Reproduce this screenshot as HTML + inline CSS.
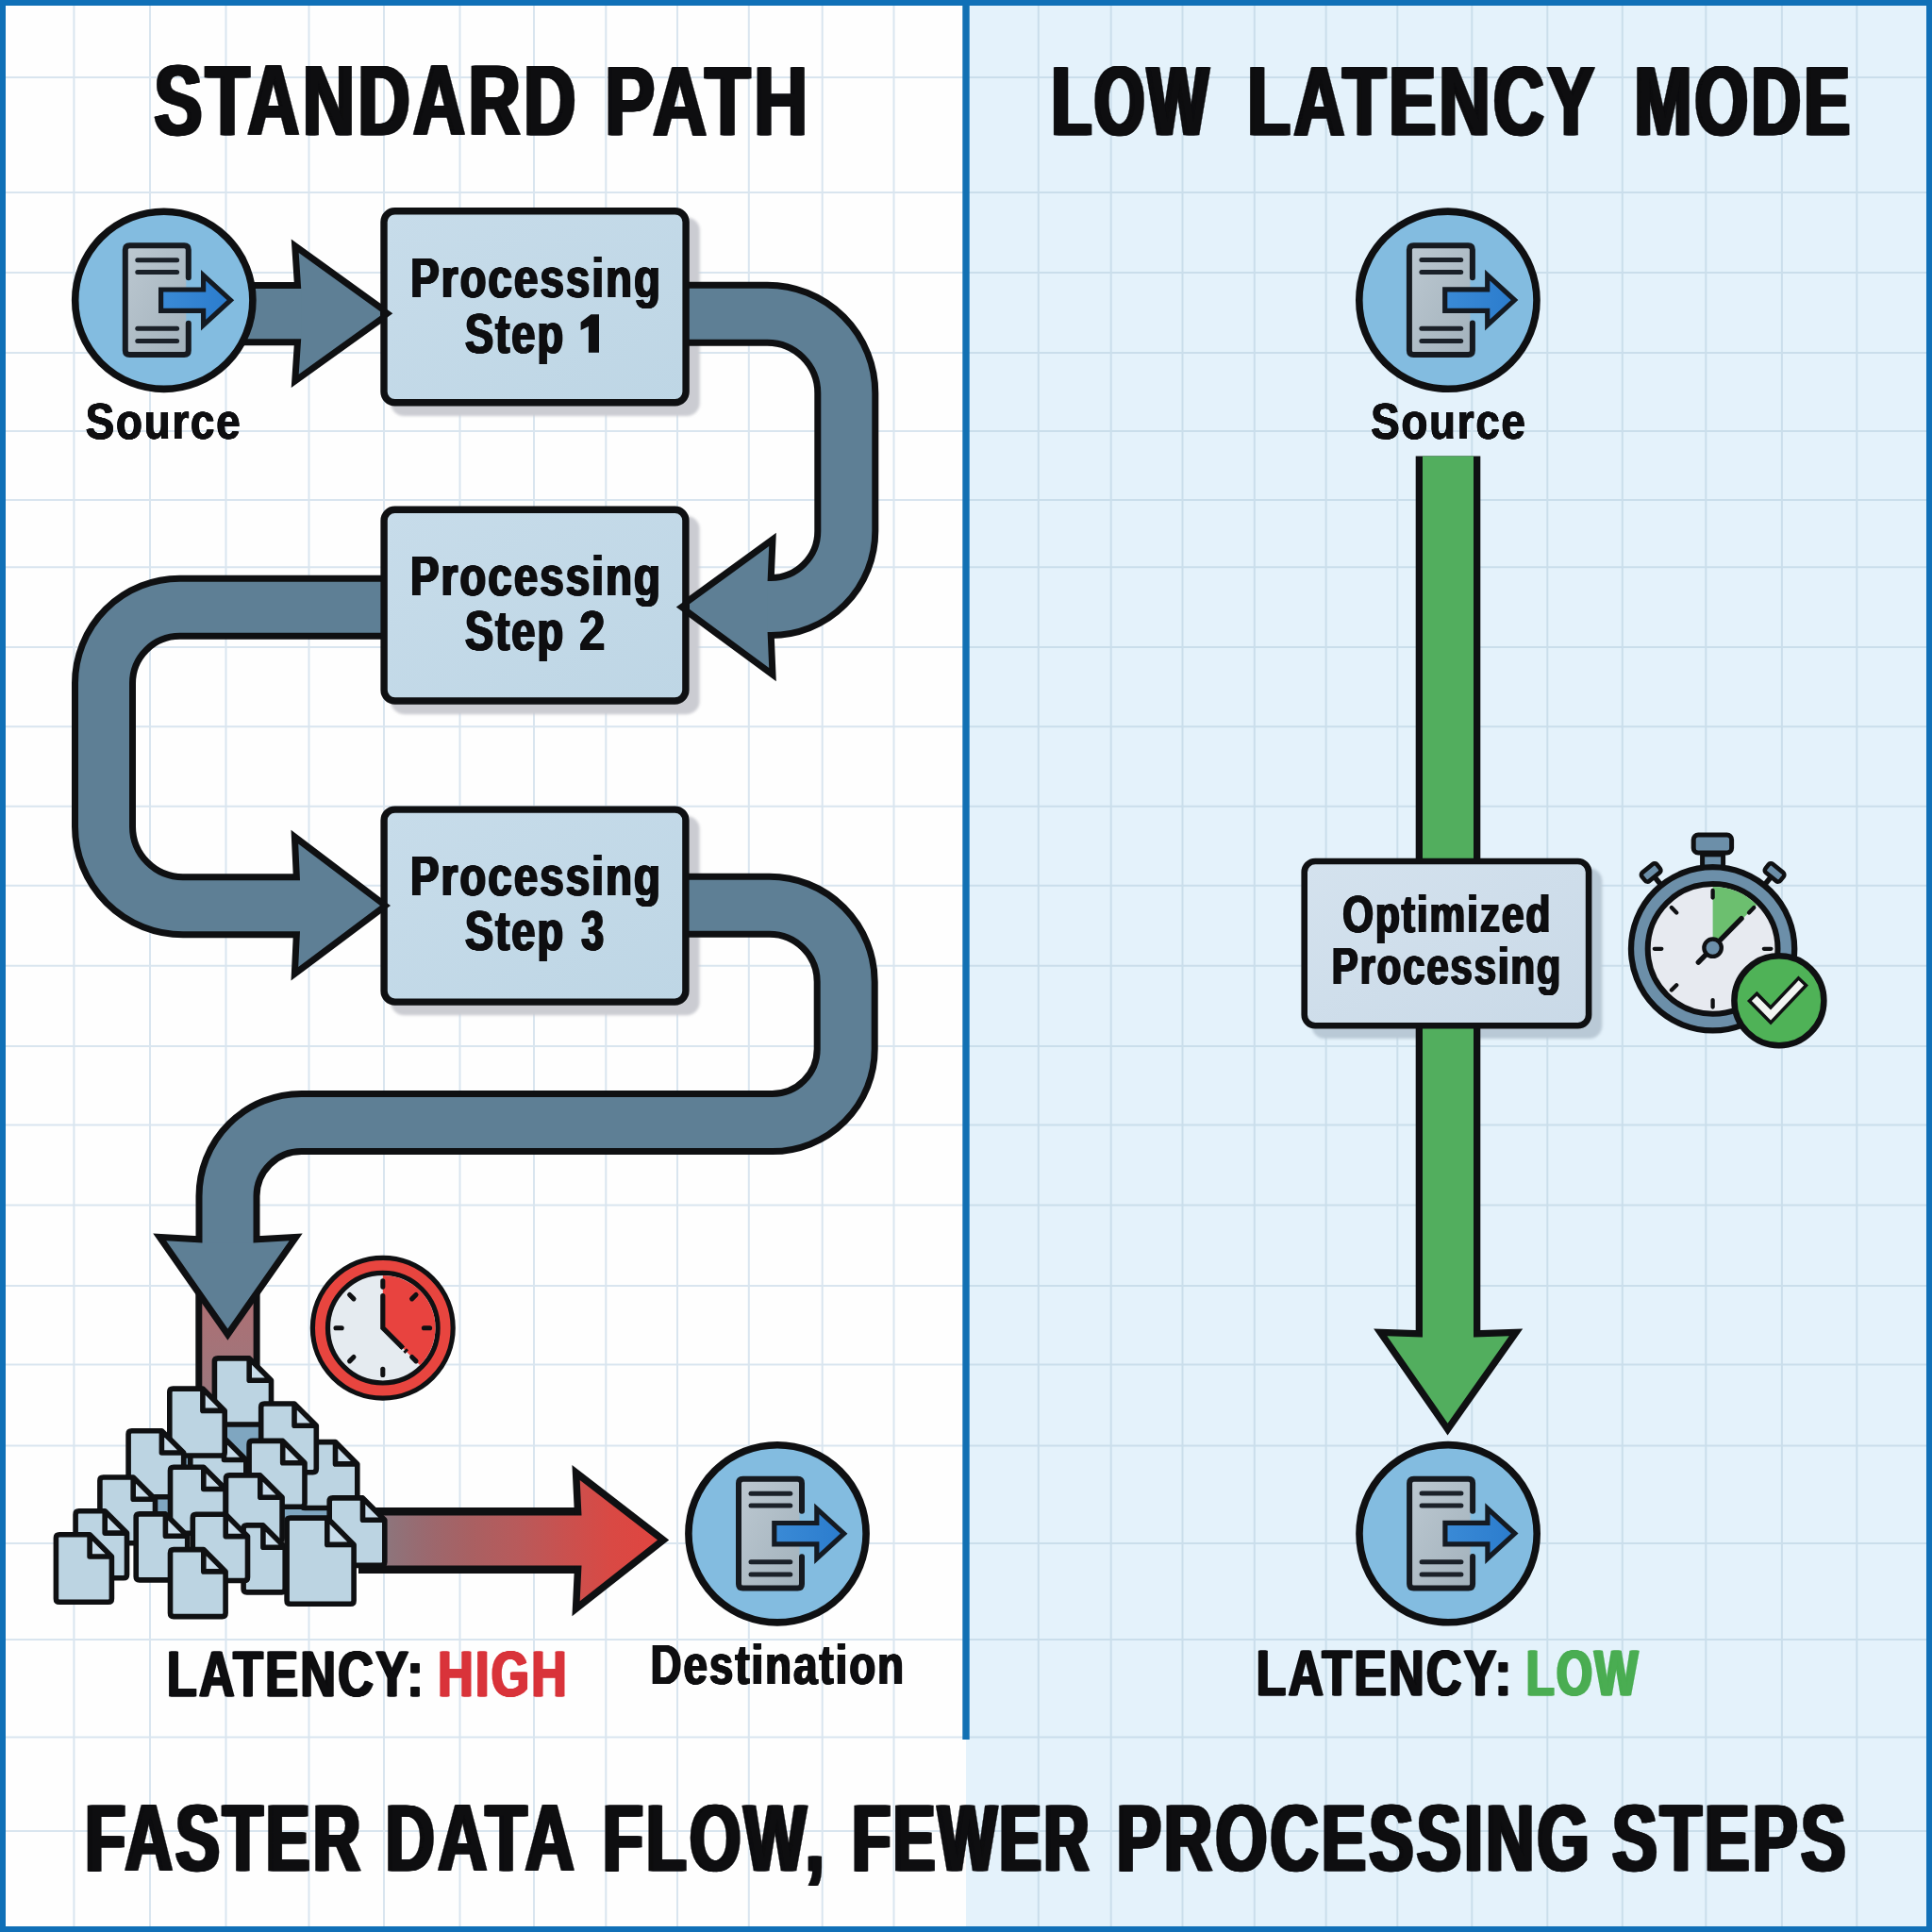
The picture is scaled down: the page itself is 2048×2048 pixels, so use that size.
<!DOCTYPE html><html><head><meta charset="utf-8"><title>Latency diagram</title><style>html,body{margin:0;padding:0;background:#fefefe}svg{display:block}</style></head><body><svg width="2048" height="2048" viewBox="0 0 2048 2048"><defs>
<linearGradient id="gbox" x1="0" y1="0" x2="1" y2="1"><stop offset="0" stop-color="#c7dcea"/><stop offset="1" stop-color="#bed6e5"/></linearGradient>
<linearGradient id="gopt" x1="0" y1="0" x2="1" y2="1"><stop offset="0" stop-color="#d4e2ee"/><stop offset="1" stop-color="#c9d9e7"/></linearGradient>
<linearGradient id="gred" gradientUnits="userSpaceOnUse" x1="410" y1="0" x2="700" y2="0"><stop offset="0" stop-color="#8d757c"/><stop offset="0.14" stop-color="#9a696f"/><stop offset="0.31" stop-color="#a96062"/><stop offset="0.48" stop-color="#b85a5b"/><stop offset="0.65" stop-color="#c9514f"/><stop offset="0.82" stop-color="#d94944"/><stop offset="1" stop-color="#e04540"/></linearGradient>
<linearGradient id="gbrown" gradientUnits="userSpaceOnUse" x1="0" y1="1380" x2="0" y2="1500"><stop offset="0" stop-color="#ad7074"/><stop offset="1" stop-color="#97787f"/></linearGradient>
<linearGradient id="gdoc" x1="0" y1="0" x2="1" y2="1"><stop offset="0" stop-color="#bcc8d1"/><stop offset="1" stop-color="#a3b2bc"/></linearGradient>
<linearGradient id="gicoarrow" x1="0" y1="0" x2="1" y2="0"><stop offset="0" stop-color="#3a8ad6"/><stop offset="1" stop-color="#2b7ccd"/></linearGradient>
<filter id="blur" x="-10%" y="-10%" width="120%" height="120%"><feGaussianBlur stdDeviation="1.5"/></filter>
</defs>
<rect x="0" y="0" width="2048" height="2048" fill="#fefefe"/>
<rect x="1024" y="0" width="1024" height="2048" fill="#e4f2fb"/>
<g stroke-width="2" fill="none"><path d="M0 82H1024" stroke="#d9e5ef"/><path d="M1024 82H2048" stroke="#cadeeb"/><path d="M0 204H1024" stroke="#d9e5ef"/><path d="M1024 204H2048" stroke="#cadeeb"/><path d="M0 289H1024" stroke="#d9e5ef"/><path d="M1024 289H2048" stroke="#cadeeb"/><path d="M0 374H1024" stroke="#d9e5ef"/><path d="M1024 374H2048" stroke="#cadeeb"/><path d="M0 457H1024" stroke="#d9e5ef"/><path d="M1024 457H2048" stroke="#cadeeb"/><path d="M0 530H1024" stroke="#d9e5ef"/><path d="M1024 530H2048" stroke="#cadeeb"/><path d="M0 601.3H1024" stroke="#d9e5ef"/><path d="M1024 601.3H2048" stroke="#cadeeb"/><path d="M0 686H1024" stroke="#d9e5ef"/><path d="M1024 686H2048" stroke="#cadeeb"/><path d="M0 770.3H1024" stroke="#d9e5ef"/><path d="M1024 770.3H2048" stroke="#cadeeb"/><path d="M0 854.8H1024" stroke="#d9e5ef"/><path d="M1024 854.8H2048" stroke="#cadeeb"/><path d="M0 938.8H1024" stroke="#d9e5ef"/><path d="M1024 938.8H2048" stroke="#cadeeb"/><path d="M0 1023.7H1024" stroke="#d9e5ef"/><path d="M1024 1023.7H2048" stroke="#cadeeb"/><path d="M0 1109H1024" stroke="#d9e5ef"/><path d="M1024 1109H2048" stroke="#cadeeb"/><path d="M0 1192.5H1024" stroke="#d9e5ef"/><path d="M1024 1192.5H2048" stroke="#cadeeb"/><path d="M0 1277.5H1024" stroke="#d9e5ef"/><path d="M1024 1277.5H2048" stroke="#cadeeb"/><path d="M0 1363H1024" stroke="#d9e5ef"/><path d="M1024 1363H2048" stroke="#cadeeb"/><path d="M0 1446.5H1024" stroke="#d9e5ef"/><path d="M1024 1446.5H2048" stroke="#cadeeb"/><path d="M0 1532.5H1024" stroke="#d9e5ef"/><path d="M1024 1532.5H2048" stroke="#cadeeb"/><path d="M0 1636H1024" stroke="#d9e5ef"/><path d="M1024 1636H2048" stroke="#cadeeb"/><path d="M0 1738H1024" stroke="#d9e5ef"/><path d="M1024 1738H2048" stroke="#cadeeb"/><path d="M0 1841.5H1024" stroke="#d9e5ef"/><path d="M1024 1841.5H2048" stroke="#cadeeb"/><path d="M0 1941H1024" stroke="#d9e5ef"/><path d="M1024 1941H2048" stroke="#cadeeb"/><path d="M78.4 0V2048" stroke="#d9e5ef"/><path d="M159 0V2048" stroke="#d9e5ef"/><path d="M239.5 0V2048" stroke="#d9e5ef"/><path d="M327.5 0V2048" stroke="#d9e5ef"/><path d="M407 0V2048" stroke="#d9e5ef"/><path d="M487.5 0V2048" stroke="#d9e5ef"/><path d="M566 0V2048" stroke="#d9e5ef"/><path d="M642.3 0V2048" stroke="#d9e5ef"/><path d="M718 0V2048" stroke="#d9e5ef"/><path d="M793.8 0V2048" stroke="#d9e5ef"/><path d="M871.7 0V2048" stroke="#d9e5ef"/><path d="M947.5 0V2048" stroke="#d9e5ef"/><path d="M1100.8 0V2048" stroke="#cadeeb"/><path d="M1177.7 0V2048" stroke="#cadeeb"/><path d="M1253.5 0V2048" stroke="#cadeeb"/><path d="M1329.8 0V2048" stroke="#cadeeb"/><path d="M1405.6 0V2048" stroke="#cadeeb"/><path d="M1481.3 0V2048" stroke="#cadeeb"/><path d="M1560.3 0V2048" stroke="#cadeeb"/><path d="M1640.3 0V2048" stroke="#cadeeb"/><path d="M1719.8 0V2048" stroke="#cadeeb"/><path d="M1808.3 0V2048" stroke="#cadeeb"/><path d="M1888.9 0V2048" stroke="#cadeeb"/><path d="M1968.3 0V2048" stroke="#cadeeb"/></g>
<rect x="1020.3" y="0" width="7.4" height="1844" fill="#1270b3"/>
<path d="M0 0H2048V2048H0Z M6 6V2042H2042V6Z" fill="#1070b7" fill-rule="evenodd"/>
<rect x="414.3" y="230.5" width="327.49999999999994" height="210.5" rx="14" fill="#cbccd2" filter="url(#blur)"/>
<rect x="414.4" y="547.0" width="327.20000000000005" height="210.20000000000005" rx="14" fill="#cbccd2" filter="url(#blur)"/>
<rect x="414.4" y="864.9" width="327.20000000000005" height="211.39999999999998" rx="14" fill="#cbccd2" filter="url(#blur)"/>
<rect x="1390.4" y="920.2" width="308.0" height="180.79999999999995" rx="14" fill="#b9c9d6" filter="url(#blur)"/>
<rect x="207.3" y="1330" width="68.3" height="175" fill="#0f1012"/><rect x="214.3" y="1330" width="54.3" height="175" fill="url(#gbrown)"/>
<path d="M250 332.6H322" fill="none" stroke="#0f1012" stroke-width="67.4" stroke-linecap="butt"/><polygon points="406.2,332.4 316.7,267.9 319.2,306.0 319.2,359.3 316.7,396.7" fill="#0f1012" stroke="#0f1012" stroke-width="14.000000000000007" stroke-linejoin="miter"/><path d="M722 332.7H813.3A84 84 0 0 1 897.3 416.7V563A80 80 0 0 1 817.3 643H810" fill="none" stroke="#0f1012" stroke-width="68" stroke-linecap="butt"/><polygon points="727.2,643.0 815.2,579.0 813.6,616.0 813.6,670.0 815.2,708.0" fill="#0f1012" stroke="#0f1012" stroke-width="14" stroke-linejoin="miter"/><path d="M412 643.8H190.5A80.5 80.5 0 0 0 110 724.3V876.2A84 84 0 0 0 194 960.2H322" fill="none" stroke="#0f1012" stroke-width="68" stroke-linecap="butt"/><polygon points="403.0,960.0 316.2,894.4 318.0,933.2 318.0,987.2 316.2,1025.1" fill="#0f1012" stroke="#0f1012" stroke-width="14" stroke-linejoin="miter"/><path d="M722 959.8H815.7A81 81 0 0 1 896.7 1040.8V1112A78 78 0 0 1 818.7 1190H319.5A78 78 0 0 0 241.5 1268V1322" fill="none" stroke="#0f1012" stroke-width="68" stroke-linecap="butt"/><polygon points="241.4,1408.5 176.2,1315.3 214.5,1317.4 268.5,1317.4 306.7,1315.3" fill="#0f1012" stroke="#0f1012" stroke-width="14" stroke-linejoin="miter"/><path d="M380 1633H620" fill="none" stroke="#0f1012" stroke-width="70" stroke-linecap="butt"/><polygon points="697.0,1632.5 614.7,1568.9 616.5,1606.3 616.5,1659.8 614.7,1697.2" fill="#0f1012" stroke="#0f1012" stroke-width="15" stroke-linejoin="miter"/><path d="M1535 483.5V1420" fill="none" stroke="#0f1012" stroke-width="68.6" stroke-linecap="butt"/><polygon points="1534.6,1508.7 1470.4,1416.2 1507.3,1417.5 1562.6,1417.5 1599.8,1416.2" fill="#0f1012" stroke="#0f1012" stroke-width="14.599999999999994" stroke-linejoin="miter"/>
<path d="M250 332.6H322" fill="none" stroke="#5e7f95" stroke-width="53.4" stroke-linecap="butt"/><polygon points="406.2,332.4 316.7,267.9 319.2,306.0 319.2,359.3 316.7,396.7" fill="#5e7f95"/><path d="M722 332.7H813.3A84 84 0 0 1 897.3 416.7V563A80 80 0 0 1 817.3 643H810" fill="none" stroke="#5e7f95" stroke-width="54" stroke-linecap="butt"/><polygon points="727.2,643.0 815.2,579.0 813.6,616.0 813.6,670.0 815.2,708.0" fill="#5e7f95"/><path d="M412 643.8H190.5A80.5 80.5 0 0 0 110 724.3V876.2A84 84 0 0 0 194 960.2H322" fill="none" stroke="#5e7f95" stroke-width="54" stroke-linecap="butt"/><polygon points="403.0,960.0 316.2,894.4 318.0,933.2 318.0,987.2 316.2,1025.1" fill="#5e7f95"/><path d="M722 959.8H815.7A81 81 0 0 1 896.7 1040.8V1112A78 78 0 0 1 818.7 1190H319.5A78 78 0 0 0 241.5 1268V1322" fill="none" stroke="#5e7f95" stroke-width="54" stroke-linecap="butt"/><polygon points="241.4,1408.5 176.2,1315.3 214.5,1317.4 268.5,1317.4 306.7,1315.3" fill="#5e7f95"/><path d="M380 1633H620" fill="none" stroke="url(#gred)" stroke-width="53" stroke-linecap="butt"/><polygon points="697.0,1632.5 614.7,1568.9 616.5,1606.3 616.5,1659.8 614.7,1697.2" fill="url(#gred)"/><path d="M1535 483.5V1420" fill="none" stroke="#52ae5e" stroke-width="54" stroke-linecap="butt"/><polygon points="1534.6,1508.7 1470.4,1416.2 1507.3,1417.5 1562.6,1417.5 1599.8,1416.2" fill="#52ae5e"/>
<rect x="407.00" y="223.70" width="320.10" height="203.10" rx="11.5" fill="url(#gbox)" stroke="#0f1012" stroke-width="7.4"/>
<rect x="407.10" y="540.20" width="319.80" height="202.80" rx="11.5" fill="url(#gbox)" stroke="#0f1012" stroke-width="7.4"/>
<rect x="407.10" y="858.10" width="319.80" height="204.00" rx="11.5" fill="url(#gbox)" stroke="#0f1012" stroke-width="7.4"/>
<rect x="1382.70" y="913.00" width="301.40" height="174.20" rx="11.5" fill="url(#gopt)" stroke="#0f1012" stroke-width="6.6"/>
<polygon points="416.3,332.3 403,322.7 403,341.9" fill="#0f1012"/><polygon points="716.8,643.5 731,633.2 731,653.8" fill="#0f1012"/><polygon points="414,960 403,952 403,968" fill="#0f1012"/>
<g transform="translate(173.8 318.3)"><circle r="94.1" fill="#83bce0" stroke="#0f1012" stroke-width="7.6"/><rect x="-41" y="-58" width="64.5" height="115.7" rx="4.5" fill="url(#gdoc)"/><path d="M26 -24V-53.5Q26 -58 21.5 -58H-36.5Q-41 -58 -41 -53.5V53.2Q-41 57.7 -36.5 57.7H21.5Q26 57.7 26 53.2V24.4" fill="none" stroke="#161a20" stroke-width="6" stroke-linecap="round"/><path d="M-28 -42.6H13.8" stroke="#1b2129" stroke-width="5" stroke-linecap="round"/><path d="M-28 -29.7H13.8" stroke="#1b2129" stroke-width="5" stroke-linecap="round"/><path d="M-28 30H13.8" stroke="#1b2129" stroke-width="5" stroke-linecap="round"/><path d="M-28 43.2H13.8" stroke="#1b2129" stroke-width="5" stroke-linecap="round"/><polygon points="-3.2,-11.3 41.8,-11.3 41.8,-26.5 70.6,-0.1 41.8,26.3 41.8,11.1 -3.2,11.1" fill="url(#gicoarrow)" stroke="#141a22" stroke-width="5.2" stroke-linejoin="miter"/></g>
<g transform="translate(1534.9 318.2)"><circle r="94.1" fill="#83bce0" stroke="#0f1012" stroke-width="7.6"/><rect x="-41" y="-58" width="64.5" height="115.7" rx="4.5" fill="url(#gdoc)"/><path d="M26 -24V-53.5Q26 -58 21.5 -58H-36.5Q-41 -58 -41 -53.5V53.2Q-41 57.7 -36.5 57.7H21.5Q26 57.7 26 53.2V24.4" fill="none" stroke="#161a20" stroke-width="6" stroke-linecap="round"/><path d="M-28 -42.6H13.8" stroke="#1b2129" stroke-width="5" stroke-linecap="round"/><path d="M-28 -29.7H13.8" stroke="#1b2129" stroke-width="5" stroke-linecap="round"/><path d="M-28 30H13.8" stroke="#1b2129" stroke-width="5" stroke-linecap="round"/><path d="M-28 43.2H13.8" stroke="#1b2129" stroke-width="5" stroke-linecap="round"/><polygon points="-3.2,-11.3 41.8,-11.3 41.8,-26.5 70.6,-0.1 41.8,26.3 41.8,11.1 -3.2,11.1" fill="url(#gicoarrow)" stroke="#141a22" stroke-width="5.2" stroke-linejoin="miter"/></g>
<g transform="translate(824 1625.8)"><circle r="94.1" fill="#83bce0" stroke="#0f1012" stroke-width="7.6"/><rect x="-41" y="-58" width="64.5" height="115.7" rx="4.5" fill="url(#gdoc)"/><path d="M26 -24V-53.5Q26 -58 21.5 -58H-36.5Q-41 -58 -41 -53.5V53.2Q-41 57.7 -36.5 57.7H21.5Q26 57.7 26 53.2V24.4" fill="none" stroke="#161a20" stroke-width="6" stroke-linecap="round"/><path d="M-28 -42.6H13.8" stroke="#1b2129" stroke-width="5" stroke-linecap="round"/><path d="M-28 -29.7H13.8" stroke="#1b2129" stroke-width="5" stroke-linecap="round"/><path d="M-28 30H13.8" stroke="#1b2129" stroke-width="5" stroke-linecap="round"/><path d="M-28 43.2H13.8" stroke="#1b2129" stroke-width="5" stroke-linecap="round"/><polygon points="-3.2,-11.3 41.8,-11.3 41.8,-26.5 70.6,-0.1 41.8,26.3 41.8,11.1 -3.2,11.1" fill="url(#gicoarrow)" stroke="#141a22" stroke-width="5.2" stroke-linejoin="miter"/></g>
<g transform="translate(1535.1 1625.7)"><circle r="94.1" fill="#83bce0" stroke="#0f1012" stroke-width="7.6"/><rect x="-41" y="-58" width="64.5" height="115.7" rx="4.5" fill="url(#gdoc)"/><path d="M26 -24V-53.5Q26 -58 21.5 -58H-36.5Q-41 -58 -41 -53.5V53.2Q-41 57.7 -36.5 57.7H21.5Q26 57.7 26 53.2V24.4" fill="none" stroke="#161a20" stroke-width="6" stroke-linecap="round"/><path d="M-28 -42.6H13.8" stroke="#1b2129" stroke-width="5" stroke-linecap="round"/><path d="M-28 -29.7H13.8" stroke="#1b2129" stroke-width="5" stroke-linecap="round"/><path d="M-28 30H13.8" stroke="#1b2129" stroke-width="5" stroke-linecap="round"/><path d="M-28 43.2H13.8" stroke="#1b2129" stroke-width="5" stroke-linecap="round"/><polygon points="-3.2,-11.3 41.8,-11.3 41.8,-26.5 70.6,-0.1 41.8,26.3 41.8,11.1 -3.2,11.1" fill="url(#gicoarrow)" stroke="#141a22" stroke-width="5.2" stroke-linejoin="miter"/></g>
<g transform="translate(405.8 1407.7)"><circle r="74.4" fill="#e8453f" stroke="#0f1012" stroke-width="5.2"/><circle r="58.3" fill="#e5ebf0" stroke="#0f1012" stroke-width="5.2"/><path d="M0 0V-55.8A55.8 55.8 0 0 1 39.46 39.46Z" fill="#e8433f"/><path d="M0.00 -43.60L0.00 -49.80" stroke="#0f1012" stroke-width="5.1" stroke-linecap="round"/><path d="M30.83 -30.83L35.21 -35.21" stroke="#0f1012" stroke-width="5.1" stroke-linecap="round"/><path d="M43.60 -0.00L49.80 -0.00" stroke="#0f1012" stroke-width="5.1" stroke-linecap="round"/><path d="M30.83 30.83L35.21 35.21" stroke="#0f1012" stroke-width="5.1" stroke-linecap="round"/><path d="M0.00 43.60L0.00 49.80" stroke="#0f1012" stroke-width="5.1" stroke-linecap="round"/><path d="M-30.83 30.83L-35.21 35.21" stroke="#0f1012" stroke-width="5.1" stroke-linecap="round"/><path d="M-43.60 0.00L-49.80 0.00" stroke="#0f1012" stroke-width="5.1" stroke-linecap="round"/><path d="M-30.83 -30.83L-35.21 -35.21" stroke="#0f1012" stroke-width="5.1" stroke-linecap="round"/><path d="M0 -34V0L19.5 19.5" fill="none" stroke="#0f1012" stroke-width="5.2" stroke-linecap="round" stroke-linejoin="miter"/><path d="M19.5 19.5L27 27" stroke="#0f1012" stroke-width="5" stroke-dasharray="3 2.4"/></g>
<g transform="translate(1815.6 1005.8)"><g transform="rotate(-39) translate(0 -104)"><rect x="-2.8" y="2" width="5.6" height="18" fill="#0f1012"/><rect x="-10.2" y="-5.8" width="20.4" height="11.6" rx="3.2" fill="#6c8fa9" stroke="#0f1012" stroke-width="4.6"/></g><g transform="rotate(39) translate(0 -104)"><rect x="-2.8" y="2" width="5.6" height="18" fill="#0f1012"/><rect x="-10.2" y="-5.8" width="20.4" height="11.6" rx="3.2" fill="#6c8fa9" stroke="#0f1012" stroke-width="4.6"/></g><rect x="-11" y="-100" width="22" height="16" fill="#6c8fa9" stroke="#0f1012" stroke-width="5"/><rect x="-20.4" y="-120.7" width="40.4" height="18.8" rx="5" fill="#6c8fa9" stroke="#0f1012" stroke-width="5"/><circle r="86.6" fill="#6c8fa9" stroke="#0f1012" stroke-width="6.3"/><circle r="68.9" fill="#e7eaf0" stroke="#0f1012" stroke-width="6"/><path d="M0 -1V-65.9A65.9 65.9 0 0 1 46.60 -46.60Z" fill="#6cbf6f"/><path d="M0.00 -54.30L0.00 -61.80" stroke="#0f1012" stroke-width="4.3" stroke-linecap="round"/><path d="M38.40 -38.40L43.70 -43.70" stroke="#0f1012" stroke-width="4.3" stroke-linecap="round"/><path d="M54.30 -0.00L61.80 -0.00" stroke="#0f1012" stroke-width="4.3" stroke-linecap="round"/><path d="M38.40 38.40L43.70 43.70" stroke="#0f1012" stroke-width="4.3" stroke-linecap="round"/><path d="M0.00 54.30L0.00 61.80" stroke="#0f1012" stroke-width="4.3" stroke-linecap="round"/><path d="M-38.40 38.40L-43.70 43.70" stroke="#0f1012" stroke-width="4.3" stroke-linecap="round"/><path d="M-54.30 0.00L-61.80 0.00" stroke="#0f1012" stroke-width="4.3" stroke-linecap="round"/><path d="M-38.40 -38.40L-43.70 -43.70" stroke="#0f1012" stroke-width="4.3" stroke-linecap="round"/><path d="M-15.3 14.3L30.4 -32.1" stroke="#0f1012" stroke-width="5.4" stroke-linecap="round"/><circle cy="-1.1" r="9.2" fill="#6c8fa9" stroke="#0f1012" stroke-width="4.4"/></g>
<circle cx="1885.9" cy="1060.7" r="47.5" fill="#4fb257" stroke="#0f1012" stroke-width="6.5"/>
<path d="M1857.2 1055.8L1877 1076L1911.7 1039.4" fill="none" stroke="#0f1012" stroke-width="14.6" stroke-linejoin="miter"/>
<path d="M1859.6 1058.3L1877 1076L1909.4 1041.9" fill="none" stroke="#f1f5f2" stroke-width="7.6" stroke-linejoin="miter"/>
<rect x="236" y="1505" width="40" height="48" fill="#7fa6c0"/><rect x="196" y="1540" width="14" height="18" fill="#7fa6c0"/><rect x="166" y="1588" width="14" height="18" fill="#7fa6c0"/><rect x="298" y="1596" width="52" height="14" fill="#7fa6c0"/>
<path d="M231.0 1439.9H264.2L287.5 1463.2V1506.4Q287.5 1510.0 283.9 1510.0H231.0Q227.4 1510.0 227.4 1506.4V1443.5Q227.4 1439.9 231.0 1439.9Z" fill="#bcd4e2"/><path d="M264.2 1439.9V1463.2H287.5Z" fill="#c8dcea"/><path d="M231.0 1439.9H264.2L287.5 1463.2V1506.4Q287.5 1510.0 283.9 1510.0H231.0Q227.4 1510.0 227.4 1506.4V1443.5Q227.4 1439.9 231.0 1439.9ZM264.2 1439.9V1463.2H287.5" fill="none" stroke="#0f1012" stroke-width="5.6" stroke-linejoin="round"/><path d="M323.4 1528.6H355.5L378.8 1551.9V1594.9Q378.8 1598.5 375.2 1598.5H323.4Q319.8 1598.5 319.8 1594.9V1532.2Q319.8 1528.6 323.4 1528.6Z" fill="#bcd4e2"/><path d="M355.5 1528.6V1551.9H378.8Z" fill="#c8dcea"/><path d="M323.4 1528.6H355.5L378.8 1551.9V1594.9Q378.8 1598.5 375.2 1598.5H323.4Q319.8 1598.5 319.8 1594.9V1532.2Q319.8 1528.6 323.4 1528.6ZM355.5 1528.6V1551.9H378.8" fill="none" stroke="#0f1012" stroke-width="5.6" stroke-linejoin="round"/><path d="M280.3 1488.0H312.0L335.3 1511.3V1557.1Q335.3 1560.7 331.7 1560.7H280.3Q276.7 1560.7 276.7 1557.1V1491.6Q276.7 1488.0 280.3 1488.0Z" fill="#bcd4e2"/><path d="M312.0 1488.0V1511.3H335.3Z" fill="#c8dcea"/><path d="M280.3 1488.0H312.0L335.3 1511.3V1557.1Q335.3 1560.7 331.7 1560.7H280.3Q276.7 1560.7 276.7 1557.1V1491.6Q276.7 1488.0 280.3 1488.0ZM312.0 1488.0V1511.3H335.3" fill="none" stroke="#0f1012" stroke-width="5.6" stroke-linejoin="round"/><path d="M205.4 1524.2H237.5L260.8 1547.5V1590.6Q260.8 1594.2 257.2 1594.2H205.4Q201.8 1594.2 201.8 1590.6V1527.8Q201.8 1524.2 205.4 1524.2Z" fill="#bcd4e2"/><path d="M237.5 1524.2V1547.5H260.8Z" fill="#c8dcea"/><path d="M205.4 1524.2H237.5L260.8 1547.5V1590.6Q260.8 1594.2 257.2 1594.2H205.4Q201.8 1594.2 201.8 1590.6V1527.8Q201.8 1524.2 205.4 1524.2ZM237.5 1524.2V1547.5H260.8" fill="none" stroke="#0f1012" stroke-width="5.6" stroke-linejoin="round"/><path d="M183.4 1472.1H214.9L238.2 1495.4V1539.4Q238.2 1543.0 234.6 1543.0H183.4Q179.8 1543.0 179.8 1539.4V1475.7Q179.8 1472.1 183.4 1472.1Z" fill="#bcd4e2"/><path d="M214.9 1472.1V1495.4H238.2Z" fill="#c8dcea"/><path d="M183.4 1472.1H214.9L238.2 1495.4V1539.4Q238.2 1543.0 234.6 1543.0H183.4Q179.8 1543.0 179.8 1539.4V1475.7Q179.8 1472.1 183.4 1472.1ZM214.9 1472.1V1495.4H238.2" fill="none" stroke="#0f1012" stroke-width="5.6" stroke-linejoin="round"/><path d="M139.7 1516.7H171.4L194.7 1540.0V1583.1Q194.7 1586.7 191.1 1586.7H139.7Q136.1 1586.7 136.1 1583.1V1520.3Q136.1 1516.7 139.7 1516.7Z" fill="#bcd4e2"/><path d="M171.4 1516.7V1540.0H194.7Z" fill="#c8dcea"/><path d="M139.7 1516.7H171.4L194.7 1540.0V1583.1Q194.7 1586.7 191.1 1586.7H139.7Q136.1 1586.7 136.1 1583.1V1520.3Q136.1 1516.7 139.7 1516.7ZM171.4 1516.7V1540.0H194.7" fill="none" stroke="#0f1012" stroke-width="5.6" stroke-linejoin="round"/><path d="M267.7 1527.4H299.7L323.0 1550.7V1593.6Q323.0 1597.2 319.4 1597.2H267.7Q264.1 1597.2 264.1 1593.6V1531.0Q264.1 1527.4 267.7 1527.4Z" fill="#bcd4e2"/><path d="M299.7 1527.4V1550.7H323.0Z" fill="#c8dcea"/><path d="M267.7 1527.4H299.7L323.0 1550.7V1593.6Q323.0 1597.2 319.4 1597.2H267.7Q264.1 1597.2 264.1 1593.6V1531.0Q264.1 1527.4 267.7 1527.4ZM299.7 1527.4V1550.7H323.0" fill="none" stroke="#0f1012" stroke-width="5.6" stroke-linejoin="round"/><path d="M184.1 1555.2H215.8L239.1 1578.5V1621.6Q239.1 1625.2 235.5 1625.2H184.1Q180.5 1625.2 180.5 1621.6V1558.8Q180.5 1555.2 184.1 1555.2Z" fill="#bcd4e2"/><path d="M215.8 1555.2V1578.5H239.1Z" fill="#c8dcea"/><path d="M184.1 1555.2H215.8L239.1 1578.5V1621.6Q239.1 1625.2 235.5 1625.2H184.1Q180.5 1625.2 180.5 1621.6V1558.8Q180.5 1555.2 184.1 1555.2ZM215.8 1555.2V1578.5H239.1" fill="none" stroke="#0f1012" stroke-width="5.6" stroke-linejoin="round"/><path d="M243.1 1563.9H275.8L299.1 1587.2V1630.6Q299.1 1634.2 295.5 1634.2H243.1Q239.5 1634.2 239.5 1630.6V1567.5Q239.5 1563.9 243.1 1563.9Z" fill="#bcd4e2"/><path d="M275.8 1563.9V1587.2H299.1Z" fill="#c8dcea"/><path d="M243.1 1563.9H275.8L299.1 1587.2V1630.6Q299.1 1634.2 295.5 1634.2H243.1Q239.5 1634.2 239.5 1630.6V1567.5Q239.5 1563.9 243.1 1563.9ZM275.8 1563.9V1587.2H299.1" fill="none" stroke="#0f1012" stroke-width="5.6" stroke-linejoin="round"/><path d="M109.5 1566.0H141.2L164.5 1589.3V1632.1Q164.5 1635.7 160.9 1635.7H109.5Q105.9 1635.7 105.9 1632.1V1569.6Q105.9 1566.0 109.5 1566.0Z" fill="#bcd4e2"/><path d="M141.2 1566.0V1589.3H164.5Z" fill="#c8dcea"/><path d="M109.5 1566.0H141.2L164.5 1589.3V1632.1Q164.5 1635.7 160.9 1635.7H109.5Q105.9 1635.7 105.9 1632.1V1569.6Q105.9 1566.0 109.5 1566.0ZM141.2 1566.0V1589.3H164.5" fill="none" stroke="#0f1012" stroke-width="5.6" stroke-linejoin="round"/><path d="M261.7 1616.9H278.9L302.2 1640.2V1684.3Q302.2 1687.9 298.6 1687.9H261.7Q258.1 1687.9 258.1 1684.3V1620.5Q258.1 1616.9 261.7 1616.9Z" fill="#bcd4e2"/><path d="M278.9 1616.9V1640.2H302.2Z" fill="#c8dcea"/><path d="M261.7 1616.9H278.9L302.2 1640.2V1684.3Q302.2 1687.9 298.6 1687.9H261.7Q258.1 1687.9 258.1 1684.3V1620.5Q258.1 1616.9 261.7 1616.9ZM278.9 1616.9V1640.2H302.2" fill="none" stroke="#0f1012" stroke-width="5.6" stroke-linejoin="round"/><path d="M352.8 1587.9H384.5L407.8 1611.2V1655.8Q407.8 1659.4 404.2 1659.4H352.8Q349.2 1659.4 349.2 1655.8V1591.5Q349.2 1587.9 352.8 1587.9Z" fill="#bcd4e2"/><path d="M384.5 1587.9V1611.2H407.8Z" fill="#c8dcea"/><path d="M352.8 1587.9H384.5L407.8 1611.2V1655.8Q407.8 1659.4 404.2 1659.4H352.8Q349.2 1659.4 349.2 1655.8V1591.5Q349.2 1587.9 352.8 1587.9ZM384.5 1587.9V1611.2H407.8" fill="none" stroke="#0f1012" stroke-width="5.6" stroke-linejoin="round"/><path d="M83.7 1601.8H111.2L134.5 1625.1V1669.2Q134.5 1672.8 130.9 1672.8H83.7Q80.1 1672.8 80.1 1669.2V1605.4Q80.1 1601.8 83.7 1601.8Z" fill="#bcd4e2"/><path d="M111.2 1601.8V1625.1H134.5Z" fill="#c8dcea"/><path d="M83.7 1601.8H111.2L134.5 1625.1V1669.2Q134.5 1672.8 130.9 1672.8H83.7Q80.1 1672.8 80.1 1669.2V1605.4Q80.1 1601.8 83.7 1601.8ZM111.2 1601.8V1625.1H134.5" fill="none" stroke="#0f1012" stroke-width="5.6" stroke-linejoin="round"/><path d="M147.8 1604.9H175.4L198.7 1628.2V1671.3Q198.7 1674.9 195.1 1674.9H147.8Q144.2 1674.9 144.2 1671.3V1608.5Q144.2 1604.9 147.8 1604.9Z" fill="#bcd4e2"/><path d="M175.4 1604.9V1628.2H198.7Z" fill="#c8dcea"/><path d="M147.8 1604.9H175.4L198.7 1628.2V1671.3Q198.7 1674.9 195.1 1674.9H147.8Q144.2 1674.9 144.2 1671.3V1608.5Q144.2 1604.9 147.8 1604.9ZM175.4 1604.9V1628.2H198.7" fill="none" stroke="#0f1012" stroke-width="5.6" stroke-linejoin="round"/><path d="M207.9 1605.3H239.2L262.5 1628.6V1671.9Q262.5 1675.5 258.9 1675.5H207.9Q204.3 1675.5 204.3 1671.9V1608.9Q204.3 1605.3 207.9 1605.3Z" fill="#bcd4e2"/><path d="M239.2 1605.3V1628.6H262.5Z" fill="#c8dcea"/><path d="M207.9 1605.3H239.2L262.5 1628.6V1671.9Q262.5 1675.5 258.9 1675.5H207.9Q204.3 1675.5 204.3 1671.9V1608.9Q204.3 1605.3 207.9 1605.3ZM239.2 1605.3V1628.6H262.5" fill="none" stroke="#0f1012" stroke-width="5.6" stroke-linejoin="round"/><path d="M307.7 1609.1H346.8L375.1 1637.4V1696.7Q375.1 1700.3 371.5 1700.3H307.7Q304.1 1700.3 304.1 1696.7V1612.7Q304.1 1609.1 307.7 1609.1Z" fill="#bcd4e2"/><path d="M346.8 1609.1V1637.4H375.1Z" fill="#c8dcea"/><path d="M307.7 1609.1H346.8L375.1 1637.4V1696.7Q375.1 1700.3 371.5 1700.3H307.7Q304.1 1700.3 304.1 1696.7V1612.7Q304.1 1609.1 307.7 1609.1ZM346.8 1609.1V1637.4H375.1" fill="none" stroke="#0f1012" stroke-width="5.6" stroke-linejoin="round"/><path d="M63.0 1626.7H95.1L118.4 1650.0V1694.7Q118.4 1698.3 114.8 1698.3H63.0Q59.4 1698.3 59.4 1694.7V1630.3Q59.4 1626.7 63.0 1626.7Z" fill="#bcd4e2"/><path d="M95.1 1626.7V1650.0H118.4Z" fill="#c8dcea"/><path d="M63.0 1626.7H95.1L118.4 1650.0V1694.7Q118.4 1698.3 114.8 1698.3H63.0Q59.4 1698.3 59.4 1694.7V1630.3Q59.4 1626.7 63.0 1626.7ZM95.1 1626.7V1650.0H118.4" fill="none" stroke="#0f1012" stroke-width="5.6" stroke-linejoin="round"/><path d="M184.1 1642.6H215.8L239.1 1665.9V1710.0Q239.1 1713.6 235.5 1713.6H184.1Q180.5 1713.6 180.5 1710.0V1646.2Q180.5 1642.6 184.1 1642.6Z" fill="#bcd4e2"/><path d="M215.8 1642.6V1665.9H239.1Z" fill="#c8dcea"/><path d="M184.1 1642.6H215.8L239.1 1665.9V1710.0Q239.1 1713.6 235.5 1713.6H184.1Q180.5 1713.6 180.5 1710.0V1646.2Q180.5 1642.6 184.1 1642.6ZM215.8 1642.6V1665.9H239.1" fill="none" stroke="#0f1012" stroke-width="5.6" stroke-linejoin="round"/>
<g font-family="'Liberation Sans', sans-serif" font-weight="bold"><text transform="translate(161.57 142.89) scale(0.7263 1)" font-size="104.77" letter-spacing="4.99" fill="#0e0e10" stroke="#0e0e10" stroke-width="0.42" stroke-linejoin="round">STANDARD</text><text transform="translate(162.56 142.89) scale(0.7263 1)" font-size="104.77" letter-spacing="4.99" fill="#0e0e10" stroke="#0e0e10" stroke-width="0.42" stroke-linejoin="round">STANDARD</text><text transform="translate(163.55 142.89) scale(0.7263 1)" font-size="104.77" letter-spacing="4.99" fill="#0e0e10" stroke="#0e0e10" stroke-width="0.42" stroke-linejoin="round">STANDARD</text><text transform="translate(164.54 142.89) scale(0.7263 1)" font-size="104.77" letter-spacing="4.99" fill="#0e0e10" stroke="#0e0e10" stroke-width="0.42" stroke-linejoin="round">STANDARD</text><text transform="translate(165.53 142.89) scale(0.7263 1)" font-size="104.77" letter-spacing="4.99" fill="#0e0e10" stroke="#0e0e10" stroke-width="0.42" stroke-linejoin="round">STANDARD</text><text transform="translate(639.60 142.89) scale(0.7574 1)" font-size="104.77" letter-spacing="4.79" fill="#0e0e10" stroke="#0e0e10" stroke-width="0.42" stroke-linejoin="round">PATH</text><text transform="translate(640.47 142.89) scale(0.7574 1)" font-size="104.77" letter-spacing="4.79" fill="#0e0e10" stroke="#0e0e10" stroke-width="0.42" stroke-linejoin="round">PATH</text><text transform="translate(641.34 142.89) scale(0.7574 1)" font-size="104.77" letter-spacing="4.79" fill="#0e0e10" stroke="#0e0e10" stroke-width="0.42" stroke-linejoin="round">PATH</text><text transform="translate(642.21 142.89) scale(0.7574 1)" font-size="104.77" letter-spacing="4.79" fill="#0e0e10" stroke="#0e0e10" stroke-width="0.42" stroke-linejoin="round">PATH</text><text transform="translate(643.08 142.89) scale(0.7574 1)" font-size="104.77" letter-spacing="4.79" fill="#0e0e10" stroke="#0e0e10" stroke-width="0.42" stroke-linejoin="round">PATH</text><text transform="translate(1112.55 142.99) scale(0.6501 1)" font-size="104.48" letter-spacing="5.56" fill="#0e0e10" stroke="#0e0e10" stroke-width="0.42" stroke-linejoin="round">LOW</text><text transform="translate(1113.83 142.99) scale(0.6501 1)" font-size="104.48" letter-spacing="5.56" fill="#0e0e10" stroke="#0e0e10" stroke-width="0.42" stroke-linejoin="round">LOW</text><text transform="translate(1115.12 142.99) scale(0.6501 1)" font-size="104.48" letter-spacing="5.56" fill="#0e0e10" stroke="#0e0e10" stroke-width="0.42" stroke-linejoin="round">LOW</text><text transform="translate(1116.40 142.99) scale(0.6501 1)" font-size="104.48" letter-spacing="5.56" fill="#0e0e10" stroke="#0e0e10" stroke-width="0.42" stroke-linejoin="round">LOW</text><text transform="translate(1117.68 142.99) scale(0.6501 1)" font-size="104.48" letter-spacing="5.56" fill="#0e0e10" stroke="#0e0e10" stroke-width="0.42" stroke-linejoin="round">LOW</text><text transform="translate(1320.33 142.99) scale(0.7123 1)" font-size="104.48" letter-spacing="5.08" fill="#0e0e10" stroke="#0e0e10" stroke-width="0.42" stroke-linejoin="round">LATENCY</text><text transform="translate(1321.37 142.99) scale(0.7123 1)" font-size="104.48" letter-spacing="5.08" fill="#0e0e10" stroke="#0e0e10" stroke-width="0.42" stroke-linejoin="round">LATENCY</text><text transform="translate(1322.41 142.99) scale(0.7123 1)" font-size="104.48" letter-spacing="5.08" fill="#0e0e10" stroke="#0e0e10" stroke-width="0.42" stroke-linejoin="round">LATENCY</text><text transform="translate(1323.45 142.99) scale(0.7123 1)" font-size="104.48" letter-spacing="5.08" fill="#0e0e10" stroke="#0e0e10" stroke-width="0.42" stroke-linejoin="round">LATENCY</text><text transform="translate(1324.49 142.99) scale(0.7123 1)" font-size="104.48" letter-spacing="5.08" fill="#0e0e10" stroke="#0e0e10" stroke-width="0.42" stroke-linejoin="round">LATENCY</text><text transform="translate(1730.46 142.99) scale(0.6929 1)" font-size="104.48" letter-spacing="5.22" fill="#0e0e10" stroke="#0e0e10" stroke-width="0.42" stroke-linejoin="round">MODE</text><text transform="translate(1731.58 142.99) scale(0.6929 1)" font-size="104.48" letter-spacing="5.22" fill="#0e0e10" stroke="#0e0e10" stroke-width="0.42" stroke-linejoin="round">MODE</text><text transform="translate(1732.69 142.99) scale(0.6929 1)" font-size="104.48" letter-spacing="5.22" fill="#0e0e10" stroke="#0e0e10" stroke-width="0.42" stroke-linejoin="round">MODE</text><text transform="translate(1733.81 142.99) scale(0.6929 1)" font-size="104.48" letter-spacing="5.22" fill="#0e0e10" stroke="#0e0e10" stroke-width="0.42" stroke-linejoin="round">MODE</text><text transform="translate(1734.93 142.99) scale(0.6929 1)" font-size="104.48" letter-spacing="5.22" fill="#0e0e10" stroke="#0e0e10" stroke-width="0.42" stroke-linejoin="round">MODE</text><text transform="translate(88.35 1982.70) scale(0.6909 1)" font-size="100.58" letter-spacing="5.04" fill="#0e0e10" stroke="#0e0e10" stroke-width="0.40" stroke-linejoin="round">FASTER</text><text transform="translate(89.43 1982.70) scale(0.6909 1)" font-size="100.58" letter-spacing="5.04" fill="#0e0e10" stroke="#0e0e10" stroke-width="0.40" stroke-linejoin="round">FASTER</text><text transform="translate(90.51 1982.70) scale(0.6909 1)" font-size="100.58" letter-spacing="5.04" fill="#0e0e10" stroke="#0e0e10" stroke-width="0.40" stroke-linejoin="round">FASTER</text><text transform="translate(91.60 1982.70) scale(0.6909 1)" font-size="100.58" letter-spacing="5.04" fill="#0e0e10" stroke="#0e0e10" stroke-width="0.40" stroke-linejoin="round">FASTER</text><text transform="translate(92.68 1982.70) scale(0.6909 1)" font-size="100.58" letter-spacing="5.04" fill="#0e0e10" stroke="#0e0e10" stroke-width="0.40" stroke-linejoin="round">FASTER</text><text transform="translate(406.57 1982.70) scale(0.7179 1)" font-size="100.58" letter-spacing="4.85" fill="#0e0e10" stroke="#0e0e10" stroke-width="0.40" stroke-linejoin="round">DATA</text><text transform="translate(407.55 1982.70) scale(0.7179 1)" font-size="100.58" letter-spacing="4.85" fill="#0e0e10" stroke="#0e0e10" stroke-width="0.40" stroke-linejoin="round">DATA</text><text transform="translate(408.54 1982.70) scale(0.7179 1)" font-size="100.58" letter-spacing="4.85" fill="#0e0e10" stroke="#0e0e10" stroke-width="0.40" stroke-linejoin="round">DATA</text><text transform="translate(409.52 1982.70) scale(0.7179 1)" font-size="100.58" letter-spacing="4.85" fill="#0e0e10" stroke="#0e0e10" stroke-width="0.40" stroke-linejoin="round">DATA</text><text transform="translate(410.50 1982.70) scale(0.7179 1)" font-size="100.58" letter-spacing="4.85" fill="#0e0e10" stroke="#0e0e10" stroke-width="0.40" stroke-linejoin="round">DATA</text><text transform="translate(637.04 1982.70) scale(0.6920 1)" font-size="100.58" letter-spacing="5.03" fill="#0e0e10" stroke="#0e0e10" stroke-width="0.40" stroke-linejoin="round">FLOW,</text><text transform="translate(638.12 1982.70) scale(0.6920 1)" font-size="100.58" letter-spacing="5.03" fill="#0e0e10" stroke="#0e0e10" stroke-width="0.40" stroke-linejoin="round">FLOW,</text><text transform="translate(639.20 1982.70) scale(0.6920 1)" font-size="100.58" letter-spacing="5.03" fill="#0e0e10" stroke="#0e0e10" stroke-width="0.40" stroke-linejoin="round">FLOW,</text><text transform="translate(640.28 1982.70) scale(0.6920 1)" font-size="100.58" letter-spacing="5.03" fill="#0e0e10" stroke="#0e0e10" stroke-width="0.40" stroke-linejoin="round">FLOW,</text><text transform="translate(641.36 1982.70) scale(0.6920 1)" font-size="100.58" letter-spacing="5.03" fill="#0e0e10" stroke="#0e0e10" stroke-width="0.40" stroke-linejoin="round">FLOW,</text><text transform="translate(901.31 1982.70) scale(0.6513 1)" font-size="100.58" letter-spacing="5.34" fill="#0e0e10" stroke="#0e0e10" stroke-width="0.40" stroke-linejoin="round">FEWER</text><text transform="translate(902.54 1982.70) scale(0.6513 1)" font-size="100.58" letter-spacing="5.34" fill="#0e0e10" stroke="#0e0e10" stroke-width="0.40" stroke-linejoin="round">FEWER</text><text transform="translate(903.77 1982.70) scale(0.6513 1)" font-size="100.58" letter-spacing="5.34" fill="#0e0e10" stroke="#0e0e10" stroke-width="0.40" stroke-linejoin="round">FEWER</text><text transform="translate(905.00 1982.70) scale(0.6513 1)" font-size="100.58" letter-spacing="5.34" fill="#0e0e10" stroke="#0e0e10" stroke-width="0.40" stroke-linejoin="round">FEWER</text><text transform="translate(906.23 1982.70) scale(0.6513 1)" font-size="100.58" letter-spacing="5.34" fill="#0e0e10" stroke="#0e0e10" stroke-width="0.40" stroke-linejoin="round">FEWER</text><text transform="translate(1181.69 1982.70) scale(0.6997 1)" font-size="100.58" letter-spacing="4.97" fill="#0e0e10" stroke="#0e0e10" stroke-width="0.40" stroke-linejoin="round">PROCESSING</text><text transform="translate(1182.74 1982.70) scale(0.6997 1)" font-size="100.58" letter-spacing="4.97" fill="#0e0e10" stroke="#0e0e10" stroke-width="0.40" stroke-linejoin="round">PROCESSING</text><text transform="translate(1183.79 1982.70) scale(0.6997 1)" font-size="100.58" letter-spacing="4.97" fill="#0e0e10" stroke="#0e0e10" stroke-width="0.40" stroke-linejoin="round">PROCESSING</text><text transform="translate(1184.84 1982.70) scale(0.6997 1)" font-size="100.58" letter-spacing="4.97" fill="#0e0e10" stroke="#0e0e10" stroke-width="0.40" stroke-linejoin="round">PROCESSING</text><text transform="translate(1185.89 1982.70) scale(0.6997 1)" font-size="100.58" letter-spacing="4.97" fill="#0e0e10" stroke="#0e0e10" stroke-width="0.40" stroke-linejoin="round">PROCESSING</text><text transform="translate(1707.11 1982.70) scale(0.7081 1)" font-size="100.58" letter-spacing="4.91" fill="#0e0e10" stroke="#0e0e10" stroke-width="0.40" stroke-linejoin="round">STEPS</text><text transform="translate(1708.12 1982.70) scale(0.7081 1)" font-size="100.58" letter-spacing="4.91" fill="#0e0e10" stroke="#0e0e10" stroke-width="0.40" stroke-linejoin="round">STEPS</text><text transform="translate(1709.14 1982.70) scale(0.7081 1)" font-size="100.58" letter-spacing="4.91" fill="#0e0e10" stroke="#0e0e10" stroke-width="0.40" stroke-linejoin="round">STEPS</text><text transform="translate(1710.16 1982.70) scale(0.7081 1)" font-size="100.58" letter-spacing="4.91" fill="#0e0e10" stroke="#0e0e10" stroke-width="0.40" stroke-linejoin="round">STEPS</text><text transform="translate(1711.18 1982.70) scale(0.7081 1)" font-size="100.58" letter-spacing="4.91" fill="#0e0e10" stroke="#0e0e10" stroke-width="0.40" stroke-linejoin="round">STEPS</text><text transform="translate(434.31 314.58) scale(0.7670 1)" font-size="59.54" letter-spacing="2.69" fill="#0e0e10" stroke="#0e0e10" stroke-width="0.24" stroke-linejoin="round">Processing</text><text transform="translate(434.78 314.58) scale(0.7670 1)" font-size="59.54" letter-spacing="2.69" fill="#0e0e10" stroke="#0e0e10" stroke-width="0.24" stroke-linejoin="round">Processing</text><text transform="translate(435.26 314.58) scale(0.7670 1)" font-size="59.54" letter-spacing="2.69" fill="#0e0e10" stroke="#0e0e10" stroke-width="0.24" stroke-linejoin="round">Processing</text><text transform="translate(435.73 314.58) scale(0.7670 1)" font-size="59.54" letter-spacing="2.69" fill="#0e0e10" stroke="#0e0e10" stroke-width="0.24" stroke-linejoin="round">Processing</text><text transform="translate(436.20 314.58) scale(0.7670 1)" font-size="59.54" letter-spacing="2.69" fill="#0e0e10" stroke="#0e0e10" stroke-width="0.24" stroke-linejoin="round">Processing</text><text transform="translate(492.04 373.58) scale(0.7625 1)" font-size="59.25" letter-spacing="2.69" fill="#0e0e10" stroke="#0e0e10" stroke-width="0.24" stroke-linejoin="round">Step</text><text transform="translate(492.52 373.58) scale(0.7625 1)" font-size="59.25" letter-spacing="2.69" fill="#0e0e10" stroke="#0e0e10" stroke-width="0.24" stroke-linejoin="round">Step</text><text transform="translate(493.00 373.58) scale(0.7625 1)" font-size="59.25" letter-spacing="2.69" fill="#0e0e10" stroke="#0e0e10" stroke-width="0.24" stroke-linejoin="round">Step</text><text transform="translate(493.48 373.58) scale(0.7625 1)" font-size="59.25" letter-spacing="2.69" fill="#0e0e10" stroke="#0e0e10" stroke-width="0.24" stroke-linejoin="round">Step</text><text transform="translate(493.96 373.58) scale(0.7625 1)" font-size="59.25" letter-spacing="2.69" fill="#0e0e10" stroke="#0e0e10" stroke-width="0.24" stroke-linejoin="round">Step</text><polygon points="635.0,333.2 626.5,333.2 615.6,341.5 615.6,350.0 623.9,346.0 623.9,373.7 635.0,373.7" fill="#0e0e10"/><text transform="translate(434.01 631.08) scale(0.7680 1)" font-size="59.54" letter-spacing="2.68" fill="#0e0e10" stroke="#0e0e10" stroke-width="0.24" stroke-linejoin="round">Processing</text><text transform="translate(434.48 631.08) scale(0.7680 1)" font-size="59.54" letter-spacing="2.68" fill="#0e0e10" stroke="#0e0e10" stroke-width="0.24" stroke-linejoin="round">Processing</text><text transform="translate(434.95 631.08) scale(0.7680 1)" font-size="59.54" letter-spacing="2.68" fill="#0e0e10" stroke="#0e0e10" stroke-width="0.24" stroke-linejoin="round">Processing</text><text transform="translate(435.42 631.08) scale(0.7680 1)" font-size="59.54" letter-spacing="2.68" fill="#0e0e10" stroke="#0e0e10" stroke-width="0.24" stroke-linejoin="round">Processing</text><text transform="translate(435.89 631.08) scale(0.7680 1)" font-size="59.54" letter-spacing="2.68" fill="#0e0e10" stroke="#0e0e10" stroke-width="0.24" stroke-linejoin="round">Processing</text><text transform="translate(492.04 689.18) scale(0.7625 1)" font-size="59.25" letter-spacing="2.69" fill="#0e0e10" stroke="#0e0e10" stroke-width="0.24" stroke-linejoin="round">Step</text><text transform="translate(492.52 689.18) scale(0.7625 1)" font-size="59.25" letter-spacing="2.69" fill="#0e0e10" stroke="#0e0e10" stroke-width="0.24" stroke-linejoin="round">Step</text><text transform="translate(493.00 689.18) scale(0.7625 1)" font-size="59.25" letter-spacing="2.69" fill="#0e0e10" stroke="#0e0e10" stroke-width="0.24" stroke-linejoin="round">Step</text><text transform="translate(493.48 689.18) scale(0.7625 1)" font-size="59.25" letter-spacing="2.69" fill="#0e0e10" stroke="#0e0e10" stroke-width="0.24" stroke-linejoin="round">Step</text><text transform="translate(493.96 689.18) scale(0.7625 1)" font-size="59.25" letter-spacing="2.69" fill="#0e0e10" stroke="#0e0e10" stroke-width="0.24" stroke-linejoin="round">Step</text><text transform="translate(613.48 689.18) scale(0.8283 1)" font-size="59.25" letter-spacing="2.47" fill="#0e0e10" stroke="#0e0e10" stroke-width="0.24" stroke-linejoin="round">2</text><text transform="translate(613.82 689.18) scale(0.8283 1)" font-size="59.25" letter-spacing="2.47" fill="#0e0e10" stroke="#0e0e10" stroke-width="0.24" stroke-linejoin="round">2</text><text transform="translate(614.15 689.18) scale(0.8283 1)" font-size="59.25" letter-spacing="2.47" fill="#0e0e10" stroke="#0e0e10" stroke-width="0.24" stroke-linejoin="round">2</text><text transform="translate(614.49 689.18) scale(0.8283 1)" font-size="59.25" letter-spacing="2.47" fill="#0e0e10" stroke="#0e0e10" stroke-width="0.24" stroke-linejoin="round">2</text><text transform="translate(614.83 689.18) scale(0.8283 1)" font-size="59.25" letter-spacing="2.47" fill="#0e0e10" stroke="#0e0e10" stroke-width="0.24" stroke-linejoin="round">2</text><text transform="translate(434.01 949.08) scale(0.7680 1)" font-size="59.54" letter-spacing="2.68" fill="#0e0e10" stroke="#0e0e10" stroke-width="0.24" stroke-linejoin="round">Processing</text><text transform="translate(434.48 949.08) scale(0.7680 1)" font-size="59.54" letter-spacing="2.68" fill="#0e0e10" stroke="#0e0e10" stroke-width="0.24" stroke-linejoin="round">Processing</text><text transform="translate(434.95 949.08) scale(0.7680 1)" font-size="59.54" letter-spacing="2.68" fill="#0e0e10" stroke="#0e0e10" stroke-width="0.24" stroke-linejoin="round">Processing</text><text transform="translate(435.42 949.08) scale(0.7680 1)" font-size="59.54" letter-spacing="2.68" fill="#0e0e10" stroke="#0e0e10" stroke-width="0.24" stroke-linejoin="round">Processing</text><text transform="translate(435.89 949.08) scale(0.7680 1)" font-size="59.54" letter-spacing="2.68" fill="#0e0e10" stroke="#0e0e10" stroke-width="0.24" stroke-linejoin="round">Processing</text><text transform="translate(492.04 1007.18) scale(0.7625 1)" font-size="59.25" letter-spacing="2.69" fill="#0e0e10" stroke="#0e0e10" stroke-width="0.24" stroke-linejoin="round">Step</text><text transform="translate(492.52 1007.18) scale(0.7625 1)" font-size="59.25" letter-spacing="2.69" fill="#0e0e10" stroke="#0e0e10" stroke-width="0.24" stroke-linejoin="round">Step</text><text transform="translate(493.00 1007.18) scale(0.7625 1)" font-size="59.25" letter-spacing="2.69" fill="#0e0e10" stroke="#0e0e10" stroke-width="0.24" stroke-linejoin="round">Step</text><text transform="translate(493.48 1007.18) scale(0.7625 1)" font-size="59.25" letter-spacing="2.69" fill="#0e0e10" stroke="#0e0e10" stroke-width="0.24" stroke-linejoin="round">Step</text><text transform="translate(493.96 1007.18) scale(0.7625 1)" font-size="59.25" letter-spacing="2.69" fill="#0e0e10" stroke="#0e0e10" stroke-width="0.24" stroke-linejoin="round">Step</text><text transform="translate(615.23 1007.18) scale(0.7157 1)" font-size="59.25" letter-spacing="2.86" fill="#0e0e10" stroke="#0e0e10" stroke-width="0.24" stroke-linejoin="round">3</text><text transform="translate(615.81 1007.18) scale(0.7157 1)" font-size="59.25" letter-spacing="2.86" fill="#0e0e10" stroke="#0e0e10" stroke-width="0.24" stroke-linejoin="round">3</text><text transform="translate(616.40 1007.18) scale(0.7157 1)" font-size="59.25" letter-spacing="2.86" fill="#0e0e10" stroke="#0e0e10" stroke-width="0.24" stroke-linejoin="round">3</text><text transform="translate(616.98 1007.18) scale(0.7157 1)" font-size="59.25" letter-spacing="2.86" fill="#0e0e10" stroke="#0e0e10" stroke-width="0.24" stroke-linejoin="round">3</text><text transform="translate(617.56 1007.18) scale(0.7157 1)" font-size="59.25" letter-spacing="2.86" fill="#0e0e10" stroke="#0e0e10" stroke-width="0.24" stroke-linejoin="round">3</text><text transform="translate(1422.19 987.89) scale(0.7554 1)" font-size="56.07" letter-spacing="2.57" fill="#0e0e10" stroke="#0e0e10" stroke-width="0.22" stroke-linejoin="round">Optimized</text><text transform="translate(1422.66 987.89) scale(0.7554 1)" font-size="56.07" letter-spacing="2.57" fill="#0e0e10" stroke="#0e0e10" stroke-width="0.22" stroke-linejoin="round">Optimized</text><text transform="translate(1423.13 987.89) scale(0.7554 1)" font-size="56.07" letter-spacing="2.57" fill="#0e0e10" stroke="#0e0e10" stroke-width="0.22" stroke-linejoin="round">Optimized</text><text transform="translate(1423.60 987.89) scale(0.7554 1)" font-size="56.07" letter-spacing="2.57" fill="#0e0e10" stroke="#0e0e10" stroke-width="0.22" stroke-linejoin="round">Optimized</text><text transform="translate(1424.07 987.89) scale(0.7554 1)" font-size="56.07" letter-spacing="2.57" fill="#0e0e10" stroke="#0e0e10" stroke-width="0.22" stroke-linejoin="round">Optimized</text><text transform="translate(1410.87 1043.39) scale(0.7446 1)" font-size="56.07" letter-spacing="2.61" fill="#0e0e10" stroke="#0e0e10" stroke-width="0.22" stroke-linejoin="round">Processing</text><text transform="translate(1411.36 1043.39) scale(0.7446 1)" font-size="56.07" letter-spacing="2.61" fill="#0e0e10" stroke="#0e0e10" stroke-width="0.22" stroke-linejoin="round">Processing</text><text transform="translate(1411.85 1043.39) scale(0.7446 1)" font-size="56.07" letter-spacing="2.61" fill="#0e0e10" stroke="#0e0e10" stroke-width="0.22" stroke-linejoin="round">Processing</text><text transform="translate(1412.34 1043.39) scale(0.7446 1)" font-size="56.07" letter-spacing="2.61" fill="#0e0e10" stroke="#0e0e10" stroke-width="0.22" stroke-linejoin="round">Processing</text><text transform="translate(1412.83 1043.39) scale(0.7446 1)" font-size="56.07" letter-spacing="2.61" fill="#0e0e10" stroke="#0e0e10" stroke-width="0.22" stroke-linejoin="round">Processing</text><text transform="translate(90.22 465.39) scale(0.8581 1)" font-size="53.18" letter-spacing="2.14" fill="#0e0e10" stroke="#0e0e10" stroke-width="0.21" stroke-linejoin="round">Source</text><text transform="translate(90.47 465.39) scale(0.8581 1)" font-size="53.18" letter-spacing="2.14" fill="#0e0e10" stroke="#0e0e10" stroke-width="0.21" stroke-linejoin="round">Source</text><text transform="translate(90.71 465.39) scale(0.8581 1)" font-size="53.18" letter-spacing="2.14" fill="#0e0e10" stroke="#0e0e10" stroke-width="0.21" stroke-linejoin="round">Source</text><text transform="translate(90.95 465.39) scale(0.8581 1)" font-size="53.18" letter-spacing="2.14" fill="#0e0e10" stroke="#0e0e10" stroke-width="0.21" stroke-linejoin="round">Source</text><text transform="translate(91.20 465.39) scale(0.8581 1)" font-size="53.18" letter-spacing="2.14" fill="#0e0e10" stroke="#0e0e10" stroke-width="0.21" stroke-linejoin="round">Source</text><text transform="translate(1452.72 464.89) scale(0.8569 1)" font-size="53.18" letter-spacing="2.15" fill="#0e0e10" stroke="#0e0e10" stroke-width="0.21" stroke-linejoin="round">Source</text><text transform="translate(1452.97 464.89) scale(0.8569 1)" font-size="53.18" letter-spacing="2.15" fill="#0e0e10" stroke="#0e0e10" stroke-width="0.21" stroke-linejoin="round">Source</text><text transform="translate(1453.22 464.89) scale(0.8569 1)" font-size="53.18" letter-spacing="2.15" fill="#0e0e10" stroke="#0e0e10" stroke-width="0.21" stroke-linejoin="round">Source</text><text transform="translate(1453.46 464.89) scale(0.8569 1)" font-size="53.18" letter-spacing="2.15" fill="#0e0e10" stroke="#0e0e10" stroke-width="0.21" stroke-linejoin="round">Source</text><text transform="translate(1453.71 464.89) scale(0.8569 1)" font-size="53.18" letter-spacing="2.15" fill="#0e0e10" stroke="#0e0e10" stroke-width="0.21" stroke-linejoin="round">Source</text><text transform="translate(688.71 1784.88) scale(0.7771 1)" font-size="58.67" letter-spacing="2.61" fill="#0e0e10" stroke="#0e0e10" stroke-width="0.23" stroke-linejoin="round">Destination</text><text transform="translate(689.16 1784.88) scale(0.7771 1)" font-size="58.67" letter-spacing="2.61" fill="#0e0e10" stroke="#0e0e10" stroke-width="0.23" stroke-linejoin="round">Destination</text><text transform="translate(689.60 1784.88) scale(0.7771 1)" font-size="58.67" letter-spacing="2.61" fill="#0e0e10" stroke="#0e0e10" stroke-width="0.23" stroke-linejoin="round">Destination</text><text transform="translate(690.05 1784.88) scale(0.7771 1)" font-size="58.67" letter-spacing="2.61" fill="#0e0e10" stroke="#0e0e10" stroke-width="0.23" stroke-linejoin="round">Destination</text><text transform="translate(690.49 1784.88) scale(0.7771 1)" font-size="58.67" letter-spacing="2.61" fill="#0e0e10" stroke="#0e0e10" stroke-width="0.23" stroke-linejoin="round">Destination</text><text transform="translate(175.69 1797.56) scale(0.7496 1)" font-size="69.36" letter-spacing="3.20" fill="#0e0e10" stroke="#0e0e10" stroke-width="0.28" stroke-linejoin="round">LATENCY:</text><text transform="translate(176.29 1797.56) scale(0.7496 1)" font-size="69.36" letter-spacing="3.20" fill="#0e0e10" stroke="#0e0e10" stroke-width="0.28" stroke-linejoin="round">LATENCY:</text><text transform="translate(176.89 1797.56) scale(0.7496 1)" font-size="69.36" letter-spacing="3.20" fill="#0e0e10" stroke="#0e0e10" stroke-width="0.28" stroke-linejoin="round">LATENCY:</text><text transform="translate(177.48 1797.56) scale(0.7496 1)" font-size="69.36" letter-spacing="3.20" fill="#0e0e10" stroke="#0e0e10" stroke-width="0.28" stroke-linejoin="round">LATENCY:</text><text transform="translate(178.08 1797.56) scale(0.7496 1)" font-size="69.36" letter-spacing="3.20" fill="#0e0e10" stroke="#0e0e10" stroke-width="0.28" stroke-linejoin="round">LATENCY:</text><text transform="translate(463.12 1797.56) scale(0.7447 1)" font-size="69.36" letter-spacing="3.22" fill="#d9333a" stroke="#d9333a" stroke-width="0.28" stroke-linejoin="round">HIGH</text><text transform="translate(463.73 1797.56) scale(0.7447 1)" font-size="69.36" letter-spacing="3.22" fill="#d9333a" stroke="#d9333a" stroke-width="0.28" stroke-linejoin="round">HIGH</text><text transform="translate(464.33 1797.56) scale(0.7447 1)" font-size="69.36" letter-spacing="3.22" fill="#d9333a" stroke="#d9333a" stroke-width="0.28" stroke-linejoin="round">HIGH</text><text transform="translate(464.94 1797.56) scale(0.7447 1)" font-size="69.36" letter-spacing="3.22" fill="#d9333a" stroke="#d9333a" stroke-width="0.28" stroke-linejoin="round">HIGH</text><text transform="translate(465.55 1797.56) scale(0.7447 1)" font-size="69.36" letter-spacing="3.22" fill="#d9333a" stroke="#d9333a" stroke-width="0.28" stroke-linejoin="round">HIGH</text><text transform="translate(1330.41 1796.76) scale(0.7518 1)" font-size="68.79" letter-spacing="3.17" fill="#0e0e10" stroke="#0e0e10" stroke-width="0.28" stroke-linejoin="round">LATENCY:</text><text transform="translate(1331.00 1796.76) scale(0.7518 1)" font-size="68.79" letter-spacing="3.17" fill="#0e0e10" stroke="#0e0e10" stroke-width="0.28" stroke-linejoin="round">LATENCY:</text><text transform="translate(1331.58 1796.76) scale(0.7518 1)" font-size="68.79" letter-spacing="3.17" fill="#0e0e10" stroke="#0e0e10" stroke-width="0.28" stroke-linejoin="round">LATENCY:</text><text transform="translate(1332.17 1796.76) scale(0.7518 1)" font-size="68.79" letter-spacing="3.17" fill="#0e0e10" stroke="#0e0e10" stroke-width="0.28" stroke-linejoin="round">LATENCY:</text><text transform="translate(1332.75 1796.76) scale(0.7518 1)" font-size="68.79" letter-spacing="3.17" fill="#0e0e10" stroke="#0e0e10" stroke-width="0.28" stroke-linejoin="round">LATENCY:</text><text transform="translate(1616.51 1796.76) scale(0.7078 1)" font-size="68.79" letter-spacing="3.36" fill="#4aad52" stroke="#4aad52" stroke-width="0.28" stroke-linejoin="round">LOW</text><text transform="translate(1617.21 1796.76) scale(0.7078 1)" font-size="68.79" letter-spacing="3.36" fill="#4aad52" stroke="#4aad52" stroke-width="0.28" stroke-linejoin="round">LOW</text><text transform="translate(1617.91 1796.76) scale(0.7078 1)" font-size="68.79" letter-spacing="3.36" fill="#4aad52" stroke="#4aad52" stroke-width="0.28" stroke-linejoin="round">LOW</text><text transform="translate(1618.60 1796.76) scale(0.7078 1)" font-size="68.79" letter-spacing="3.36" fill="#4aad52" stroke="#4aad52" stroke-width="0.28" stroke-linejoin="round">LOW</text><text transform="translate(1619.30 1796.76) scale(0.7078 1)" font-size="68.79" letter-spacing="3.36" fill="#4aad52" stroke="#4aad52" stroke-width="0.28" stroke-linejoin="round">LOW</text></g></svg></body></html>
